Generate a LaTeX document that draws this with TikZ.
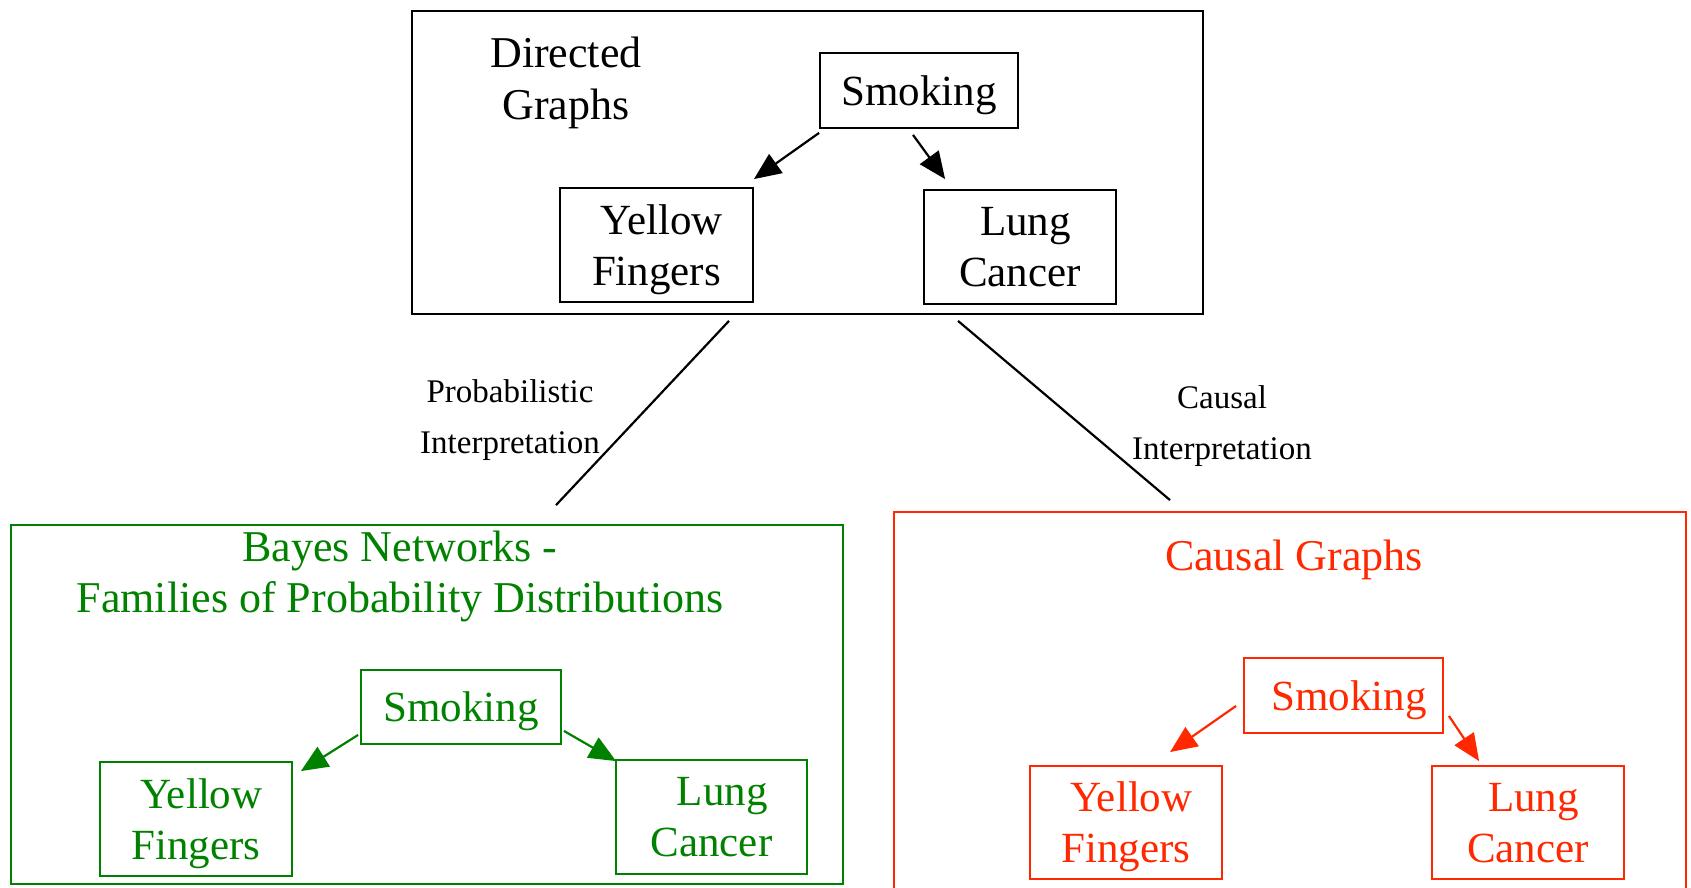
\documentclass[tikz,border=0pt]{standalone}
\usepackage{fontspec}
\setmainfont{Liberation Serif}
\usetikzlibrary{arrows.meta}
\definecolor{bngreen}{RGB}{0,130,0}
\definecolor{cgred}{RGB}{255,40,0}
\begin{document}
\begin{tikzpicture}[x=1pt,y=-1pt,
  varbox/.style={draw, line width=1.8pt, align=center, inner sep=0pt, text depth=0pt,
    font=\fontsize{43}{51}\selectfont},
  frame/.style={draw, line width=1.8pt, inner sep=0pt},
  title/.style={align=center, inner sep=0pt, font=\fontsize{44}{51}\selectfont},
  lbl/.style={align=center, inner sep=0pt, font=\fontsize{33}{51}\selectfont},
  edge/.style={line width=2.2pt, -{Triangle[length=27pt,width=23pt]}},
  link/.style={line width=2.2pt}]
\useasboundingbox (0,0) rectangle (1691,888);

% outer frames
\node[frame, minimum width=791pt, minimum height=303pt] (top) at (807.5,162.5) {};
\node[frame, bngreen, minimum width=832pt, minimum height=359pt] (bn) at (427,704.5) {};
\node[frame, cgred, minimum width=792pt, minimum height=390pt] (cg) at (1290,707) {};

% directed graph
\node[title, font=\fontsize{44}{52}\selectfont] (dgt) at (566,83) {Directed\\Graphs};
\node[varbox, minimum width=198pt, minimum height=75pt] (sm) at (919,90.5) {Smoking};
\node[varbox, minimum width=193pt, minimum height=114pt] (yf) at (656.5,245) {\ Yellow\\Fingers};
\node[varbox, minimum width=192pt, minimum height=114pt] (lc) at (1020,247) {\ Lung\\Cancer};
\draw[edge] ([yshift=-4pt]sm.south west) -- ([yshift=8pt]yf.north east);
\draw[edge] ([xshift=-6pt,yshift=-6pt]sm.south) -- ([xshift=22pt,yshift=10pt]lc.north west);

% interpretations
\draw[link] ([xshift=-78.5pt,yshift=-6pt]top.south) -- ([xshift=129pt,yshift=19pt]bn.north);
\draw[link] ([xshift=150.5pt,yshift=-6pt]top.south) -- ([xshift=-120pt,yshift=11pt]cg.north);
\node[lbl] (pi) at (510,420) {Probabilistic\\Interpretation};
\node[lbl] (ci) at (1222,426) {Causal\\Interpretation};

% Bayes network
\begin{scope}[bngreen]
\node[title] (bnt) at (400,576) {Bayes Networks -\\Families of Probability Distributions};
\node[varbox, minimum width=200pt, minimum height=74pt] (gsm) at (461,707) {Smoking};
\node[varbox, minimum width=192pt, minimum height=114pt] (gyf) at (196,819) {\ Yellow\\Fingers};
\node[varbox, minimum width=191pt, minimum height=114pt] (glc) at (711.5,817) {\ \ Lung\\Cancer};
\draw[edge] ([xshift=-2pt,yshift=10pt]gsm.south west) -- ([xshift=8pt,yshift=-10pt]gyf.north east);
\draw[edge] ([xshift=2pt,yshift=14pt]gsm.south east) -- ([xshift=1pt,yshift=-2pt]glc.north west);
\end{scope}

% causal graph
\begin{scope}[cgred]
\node[title] (cgt) at (1294,560) {Causal Graphs};
\node[varbox, minimum width=199pt, minimum height=75pt] (rsm) at (1343.5,695.5) {\ Smoking};
\node[varbox, minimum width=192pt, minimum height=113pt] (ryf) at (1126,822.5) {\ Yellow\\Fingers};
\node[varbox, minimum width=192pt, minimum height=113pt] (rlc) at (1528,822.5) {\ Lung\\Cancer};
\draw[edge] ([xshift=-7pt,yshift=28pt]rsm.south west) -- ([xshift=44pt,yshift=13pt]ryf.north);
\draw[edge] ([xshift=5pt,yshift=18pt]rsm.south east) -- ([xshift=48pt,yshift=4pt]rlc.north west);
\end{scope}
\end{tikzpicture}
\end{document}
